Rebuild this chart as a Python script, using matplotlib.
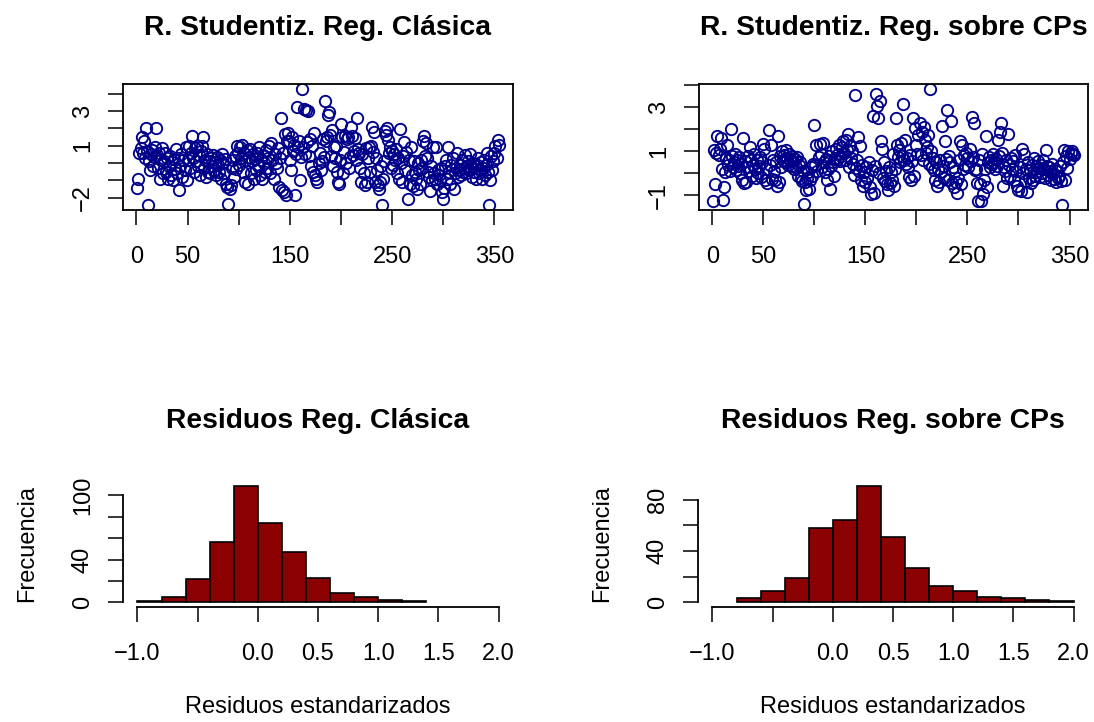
import numpy as np
import matplotlib
matplotlib.use("Agg")
import matplotlib.pyplot as plt

plt.rcParams['font.family'] = ['Liberation Sans', 'DejaVu Sans']

# studentized residuals, classic regression (index 1..354)
stud_clasica = [
    -1.45, -0.95, 0.6, 0.85, 1.5, 0.55, 1.25, 0.3, 2.05, 0.7,
    -2.45, 0.1, -0.4, 0.5, 0.75, -0.2, 0.35, 0.9, 2.05, 0.45,
    -0.3, 0.6, -0.9, 0.2, 0.85, -0.6, 0.1, 0.55, -0.5, 0.3,
    -0.95, -0.2, 0.4, -0.7, 0.05, -1.0, 0.25, -0.35, 0.8, -0.6,
    0.3, -1.55, -0.15, 0.5, -0.8, 0.15, -0.4, 0.95, -1.0, 0.2,
    1.0, -0.3, 0.6, 1.55, 0.3, -0.5, 0.85, 0.1, 1.0, -0.2,
    0.45, -0.7, 0.7, 1.0, 1.5, -0.3, 0.2, -0.8, 0.5, -0.5,
    0.1, -0.6, 0.3, -0.2, 0.45, -0.45, 0.05, -0.7, 0.35, -0.1,
    -0.5, 0.2, -0.9, 0.5, 0.0, -0.6, 0.25, -1.2, -1.4, -2.4,
    -1.5, -1.25, -0.3, 0.15, -0.8, 0.4, -0.35, 1.0, 0.55, -0.1,
    0.9, 0.3, 1.05, -0.5, 0.6, -1.1, 0.2, 0.75, -1.2, 0.35,
    0.8, -0.6, 0.1, 0.5, -0.9, 0.25, -0.4, 0.6, -0.2, 0.9,
    -0.7, 0.15, -0.95, 0.45, 0.0, -0.5, 0.75, -0.3, 0.3, 1.0,
    -0.6, 1.15, 0.2, -0.9, 0.5, 0.0, -0.3, 0.85, -1.4, 0.3,
    2.6, -1.55, 0.55, -1.65, 1.65, -1.85, 1.25, 1.75, 1.3, 0.2,
    -0.4, 1.5, 0.7, 1.05, -1.85, 0.5, 3.25, 0.9, 1.3, -1.0,
    0.35, 4.3, 0.95, 3.1, 0.5, 3.05, 1.2, 3.0, 0.4, 1.4,
    -0.2, 1.0, -0.5, 1.75, -0.7, -0.95, -1.1, 0.0, 0.55, -0.4,
    0.1, 1.4, 0.35, 3.6, 1.3, 1.5, 2.8, 2.95, 1.6, 0.4,
    1.9, -0.2, 0.9, 0.3, 1.0, -0.5, -1.1, -1.2, 0.2, 2.25,
    1.5, -0.6, 0.65, 1.55, 0.0, 1.4, 1.5, -0.3, 0.35, 2.1,
    1.55, 0.45, 0.7, 1.45, 0.2, 2.6, 0.8, 0.55, -0.3, -1.1,
    0.5, -0.6, -1.3, 0.85, -1.1, 0.3, 0.9, -0.5, 1.0, 2.1,
    0.65, 1.8, -1.1, 0.3, -0.4, -1.3, -1.5, -1.1, -0.2, -2.45,
    -0.9, 0.1, 1.85, 1.6, 2.0, 1.35, 0.6, 0.9, -0.3, 0.7,
    -0.1, 0.5, 0.2, 0.8, -0.6, 0.3, -0.9, 1.95, 0.0, -1.1,
    0.4, 1.2, -0.4, 0.65, -2.1, 0.2, -1.2, 0.95, -0.7, -1.35,
    0.1, -0.5, -0.9, -1.5, 0.0, -0.4, -1.2, 0.2, -0.3, 1.25,
    1.55, 0.4, 1.15, 0.3, -0.5, -0.8, -1.6, -0.2, -1.0, 0.9,
    -0.6, -0.9, 0.95, -1.2, -0.4, -0.7, -1.0, -0.3, -1.7, -2.1,
    -1.45, -0.2, 0.15, -0.9, 0.9, -0.5, -1.2, -0.1, 0.3, -1.5,
    -0.6, -0.3, 0.6, -0.8, -0.4, -0.1, -0.7, 0.2, -0.5, -0.3,
    0.45, -0.6, -0.2, 0.1, -0.4, 0.5, -0.3, -0.8, 0.0, -0.5,
    -0.2, -0.9, -0.1, 0.3, -0.6, -0.4, 0.05, -0.9, -0.3, 0.2,
    -0.7, -0.1, 0.55, -0.5, -2.45, -1.0, 0.4, -0.4, 0.1, 0.6,
    1.0, 0.3, 1.35, 1.05,
]

# studentized residuals, regression on principal components
stud_cps = [
    -1.25, 1.05, -0.5, 0.95, 1.7, 0.85, 1.1, 1.6, 0.2, -1.2,
    -0.6, 0.05, 0.7, 1.3, 0.4, 0.6, 0.1, 2.0, 0.8, 0.3,
    0.5, 0.9, 0.15, 0.6, 0.35, 0.75, 0.0, 0.45, -0.3, 1.6,
    -0.45, 0.55, -0.4, 0.3, 0.8, 0.1, 1.2, 0.6, -0.1, 0.4,
    0.9, 0.2, -0.2, 0.6, 0.0, 0.35, 0.75, -0.15, 0.5, 1.35,
    1.1, -0.3, 0.2, -0.45, 1.95, 0.4, 1.3, -0.25, 0.6, 0.1,
    -0.3, 0.5, -0.55, 1.7, -0.4, 0.8, 0.3, 1.0, 0.6, 0.85,
    0.5, 1.05, 0.7, 0.4, 0.9, 0.6, 0.35, 0.8, 0.55, 0.2,
    0.65, 0.3, 0.75, -0.1, 0.4, 0.5, -0.2, -0.35, 0.1, -1.4,
    -0.4, -0.75, -0.2, 0.05, -0.7, -0.3, 0.3, -0.1, 0.45, 2.2,
    0.4, 1.3, 0.1, 0.75, 1.35, 0.9, 0.3, 1.4, 0.5, 0.05,
    0.65, -0.3, 0.2, 0.8, -0.7, 0.35, 1.0, 0.5, -0.1, 0.7,
    1.1, 0.6, 0.9, 1.3, 0.55, 0.8, 1.2, 1.45, 0.95, 0.6,
    1.5, 1.05, 1.8, 0.3, 1.25, 0.7, 1.0, 0.45, -0.05, 3.55,
    0.25, 0.6, 1.65, 0.1, 1.25, -0.3, 0.4, -0.55, 0.05, -0.4,
    0.3, -0.2, 0.5, -0.6, -0.95, 0.15, 2.6, -0.9, 0.35, 3.6,
    3.05, 2.5, 0.0, 3.3, 1.45, 1.1, -0.2, 0.5, -0.35, 0.1,
    -0.5, -0.75, 0.3, -0.45, 0.05, -0.3, 0.9, -0.55, 0.2, 2.5,
    1.3, 0.75, 1.05, 0.5, 1.4, 0.8, 3.15, 0.6, 1.5, 0.45,
    0.7, 0.3, -0.15, 0.85, -0.3, 0.55, 2.5, -0.1, 2.05, 1.3,
    0.9, 1.75, 2.3, 0.85, 1.9, 0.6, 2.1, 1.5, 0.95, 1.2,
    1.75, 0.45, 3.85, 1.0, 0.3, 0.7, 0.15, -0.3, 0.5, -0.55,
    0.2, -0.4, 0.6, 0.05, 2.15, 0.35, -0.2, 1.45, 0.65, 2.9,
    -0.3, 0.8, 0.5, 2.4, -0.45, 0.3, -0.6, 0.1, -0.4, -0.9,
    -0.2, 0.6, 1.45, -0.5, 1.3, 0.2, 0.85, 0.4, 0.95, 0.7,
    0.3, 1.1, 0.55, 2.55, 0.75, 2.3, 0.15, 0.2, -0.45, -1.25,
    0.6, -0.5, -1.25, 0.9, -0.95, -0.3, 0.2, 1.7, -0.6, 0.5,
    0.75, 0.3, 0.6, 0.45, 0.9, 0.5, 0.2, 0.65, 0.35, 1.5,
    0.8, 1.9, 2.3, 0.95, -0.55, 0.3, 0.1, 0.6, -0.2, 1.8,
    0.4, -0.1, 0.7, 0.2, 0.55, -0.3, 0.85, 0.1, -0.55, -0.75,
    0.3, -0.8, 1.1, 0.0, 0.9, -0.35, 0.2, -0.85, 0.5, -0.2,
    0.15, -0.45, 0.4, -0.3, 0.7, -0.1, 0.35, 0.05, 0.55, 0.25,
    -0.15, 0.4, 0.0, 0.6, 0.2, -0.2, 1.05, 0.35, -0.05, 0.3,
    0.1, -0.3, 0.45, 0.0, -0.25, 0.2, -0.4, 0.1, -0.2, -0.1,
    0.35, -0.35, -1.45, 0.5, 1.05, -0.3, 0.8, 0.25, 1.0, 0.65,
    0.95, 1.0, 0.9, 0.85,
]

# histogram of standardized residuals (bin width 0.2)
bins_clasica = [-1.0, -0.8, -0.6, -0.4, -0.2, 0.0, 0.2, 0.4, 0.6, 0.8, 1.0, 1.2, 1.4]
freq_clasica = [1, 5, 22, 56, 109, 74, 47, 23, 9, 5, 2, 1]
bins_cps = [-0.8, -0.6, -0.4, -0.2, 0.0, 0.2, 0.4, 0.6, 0.8, 1.0, 1.2, 1.4, 1.6, 1.8, 2.0]
freq_cps = [3, 9, 19, 58, 64, 91, 51, 27, 13, 9, 4, 3, 2, 1]

W, H = 1094, 722
fig = plt.figure(figsize=(W / 100, H / 100), dpi=100)

def add_ax(x0, y0, x1, y1):
    return fig.add_axes([x0 / W, 1 - y1 / H, (x1 - x0) / W, (y1 - y0) / H])

AX_FS = 17
TI_FS = 20.3

def r_ticks(ax):
    ax.tick_params(direction='out', length=11, width=1.1, labelsize=AX_FS, colors='black')
    ax.tick_params(axis='x', pad=15)
    ax.tick_params(axis='y', pad=10)
    for t in ax.get_yticklabels():
        t.set_rotation(90)
        t.set_va('center')

def scatter_panel(box, vals, yticks, ylabs, title):
    ax = add_ax(*box)
    n = len(vals)
    idx = np.arange(1, n + 1)
    ax.plot(idx, vals, linestyle='none', marker='o', markersize=8.2,
            markerfacecolor='none', markeredgecolor='#00008B', markeredgewidth=1.35)
    ax.set_xlim(1 - 0.04 * (n - 1), n + 0.04 * (n - 1))
    lo, hi = min(vals), max(vals)
    ax.set_ylim(lo - 0.04 * (hi - lo), hi + 0.04 * (hi - lo))
    ax.set_xticks([0, 50, 100, 150, 200, 250, 300, 350])
    ax.set_xticklabels(['0', '50', '', '150', '', '250', '', '350'])
    ax.set_yticks(yticks)
    ax.set_yticklabels(ylabs)
    for s in ax.spines.values():
        s.set_linewidth(1.3)
    r_ticks(ax)
    fig.text((box[0] + box[2]) / 2 / W, 1 - 28 / H, title, ha='center', va='center',
             fontsize=TI_FS, fontweight='bold')
    return ax

def hist_panel(box, edges, counts, yticks, ylabs, title):
    ax = add_ax(*box)
    ax.bar(edges[:-1], counts, width=np.diff(edges), align='edge',
           color='#8B0000', edgecolor='black', linewidth=1.2)
    ax.set_xlim(-1.12, 2.12)
    top = max(counts)
    ax.set_ylim(-0.04 * top, 1.04 * top)
    ax.set_xticks([-1.0, -0.5, 0.0, 0.5, 1.0, 1.5, 2.0])
    ax.set_xticklabels(['\u22121.0', '', '0.0', '0.5', '1.0', '1.5', '2.0'])
    ax.set_yticks(yticks)
    ax.set_yticklabels(ylabs)
    ax.spines['top'].set_visible(False)
    ax.spines['right'].set_visible(False)
    ax.spines['left'].set_bounds(yticks[0], yticks[-1])
    ax.spines['bottom'].set_bounds(-1.0, 2.0)
    ax.spines['left'].set_linewidth(1.3)
    ax.spines['bottom'].set_linewidth(1.3)
    r_ticks(ax)
    ax.set_ylabel('Frecuencia', fontsize=AX_FS, labelpad=24)
    ax.set_xlabel('Residuos estandarizados', fontsize=AX_FS, labelpad=22)
    fig.text((box[0] + box[2]) / 2 / W, 1 - 421 / H, title, ha='center', va='center',
             fontsize=TI_FS, fontweight='bold')
    return ax

scatter_panel((123, 84, 513, 210), stud_clasica, [-2, -1, 0, 1, 2, 3, 4],
              ['\u22122', '', '', '1', '', '3', ''], 'R. Studentiz. Reg. Clásica')
scatter_panel((699, 84, 1088, 210), stud_cps, [-1, 0, 1, 2, 3, 4],
              ['\u22121', '', '1', '', '3', ''], 'R. Studentiz. Reg. sobre CPs')
hist_panel((123, 481, 513, 607), bins_clasica, freq_clasica, [0, 20, 40, 60, 80, 100],
           ['0', '', '40', '', '', '100'], 'Residuos Reg. Clásica')
hist_panel((698, 481, 1088, 607), bins_cps, freq_cps, [0, 20, 40, 60, 80],
           ['0', '', '40', '', '80'], 'Residuos Reg. sobre CPs')

fig.savefig('out.png', dpi=100, facecolor='white')
